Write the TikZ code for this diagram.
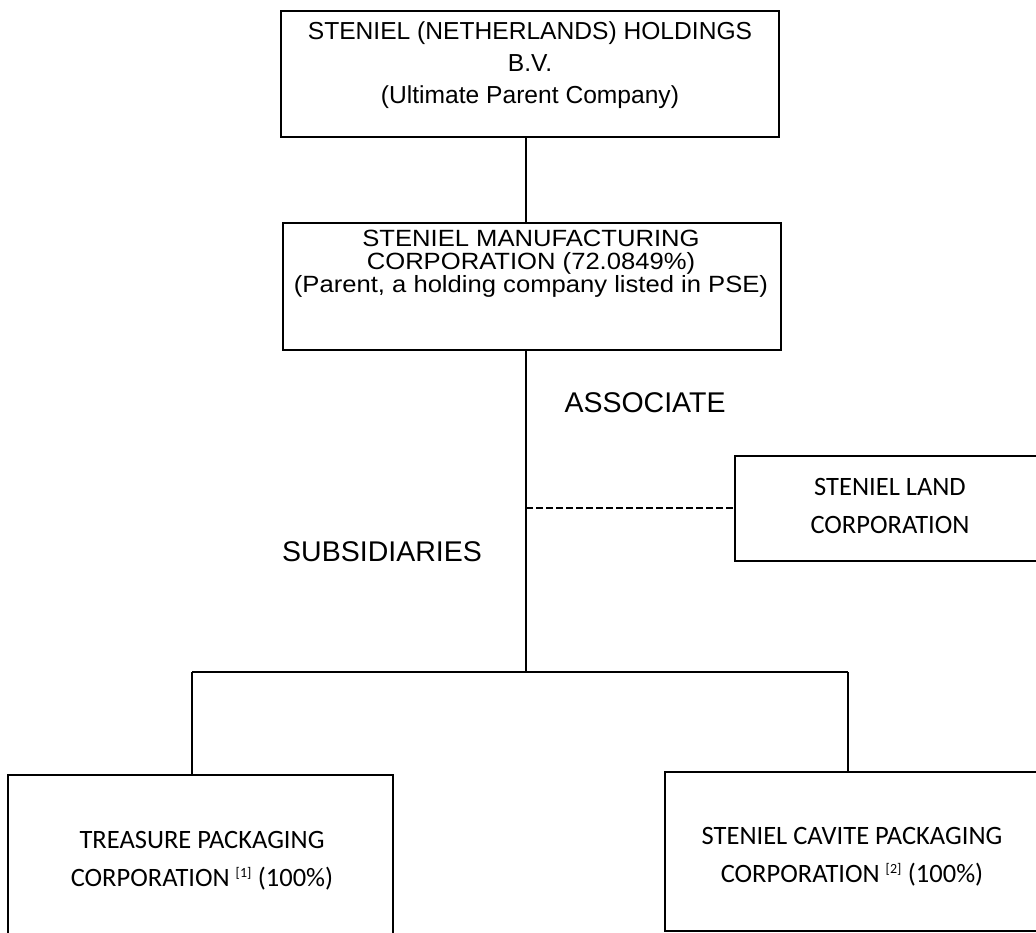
\documentclass[tikz,border=0pt]{standalone}
\usepackage{fontspec}
\setmainfont{Liberation Sans}
\newfontfamily\calfont{Carlito}
\newfontfamily\midfont[FakeStretch=1.09]{Liberation Sans}
\begin{document}
\begin{tikzpicture}[x=1pt,y=-1pt,
  box/.style={draw, rectangle, inner sep=0pt, line width=1.7pt},
  conn/.style={line width=1.7pt},
  assoc/.style={line width=1.7pt, dash pattern=on 7pt off 3pt},
  toptxt/.style={align=center, inner sep=0pt, font=\fontsize{24.6}{32}\selectfont},
  midtxt/.style={align=center, inner sep=0pt, font=\midfont\fontsize{23.5}{23}\selectfont},
  caltxt/.style={align=center, inner sep=0pt, font=\calfont\fontsize{26.5}{38}\selectfont},
  lbl/.style={inner sep=0pt, font=\fontsize{28.5}{34}\selectfont}]
\useasboundingbox (0,0) rectangle (1036,933);
\clip (0,0) rectangle (1036,933);
% boxes
\node[box, minimum width=498pt, minimum height=126pt] (top) at (530,74) {};
\node[box, minimum width=498pt, minimum height=127pt] (mid) at (532,286.5) {};
\node[box, minimum width=310pt, minimum height=105pt] (land) at (890,508.5) {};
\node[box, minimum width=385pt, minimum height=175pt] (lbox) at (200.5,862.5) {};
\node[box, minimum width=375pt, minimum height=159pt] (rbox) at (852.5,851.5) {};
% texts
\node[toptxt] (toptext) at (530,65) {STENIEL (NETHERLANDS) HOLDINGS\\B.V.\\(Ultimate Parent Company)};
\node[midtxt] (midtext) at (531,264) {STENIEL MANUFACTURING\\CORPORATION (72.0849\%)\\(Parent, a holding company listed in PSE)};
\node[caltxt] (landtext) at (890,505.5) {STENIEL LAND\\CORPORATION};
\node[caltxt] (ltext) at (202,861) {TREASURE PACKAGING\\CORPORATION \textsuperscript{\fontsize{14}{14}\selectfont[1]} (100\%)};
\node[caltxt] (rtext) at (852,856.5) {STENIEL CAVITE PACKAGING\\CORPORATION \textsuperscript{\fontsize{14}{14}\selectfont[2]} (100\%)};
\node[lbl] (associate) at (645,403) {ASSOCIATE};
\node[lbl] (subsid) at (382,552) {SUBSIDIARIES};
% connectors
\coordinate (tx) at (526,0);
\coordinate (j) at (526,672);
\coordinate (jl) at (192,672);
\coordinate (jr) at (848,672);
\coordinate (d) at (526,508);
\draw[conn] (top.south -| tx) -- (mid.north -| tx);
\draw[conn] (mid.south -| tx) -- (j);
\draw[conn] (jl) -- (jr);
\draw[conn] (jl) -- (lbox.north -| jl);
\draw[conn] (jr) -- (rbox.north -| jr);
\draw[assoc] (d) -- (land.west |- d);
\end{tikzpicture}
\end{document}
